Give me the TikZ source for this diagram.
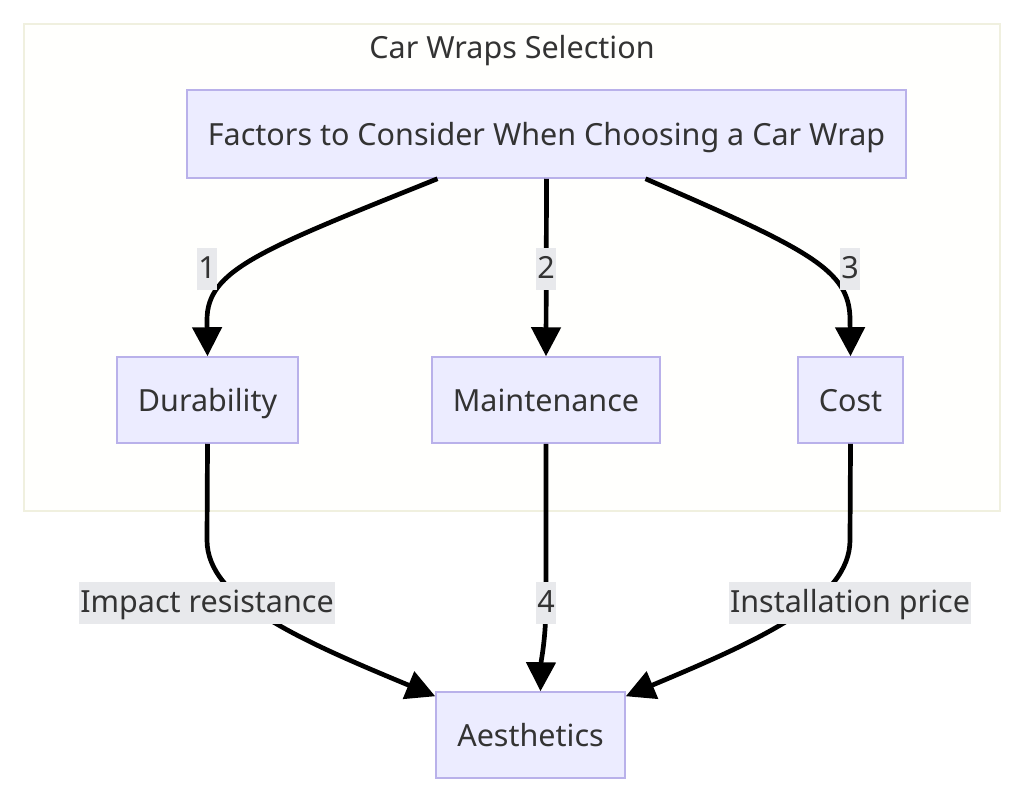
\documentclass[tikz,border=0pt]{standalone}
\usepackage{fontspec}
\setmainfont{Noto Sans}
\usetikzlibrary{arrows.meta,calc}
\definecolor{nodefill}{HTML}{ECECFF}
\definecolor{nodeline}{HTML}{B9B1EA}
\definecolor{txt}{HTML}{333333}
\definecolor{lblbg}{HTML}{E8E9EC}
\definecolor{clfill}{HTML}{FFFFFD}
\definecolor{clline}{HTML}{F0F0DF}
\tikzset{
  box/.style={draw=nodeline, fill=nodefill, line width=1.5pt, text=txt, inner sep=0pt, text height=22pt, text depth=0pt, font=\fontsize{30.5}{36}\selectfont},
  lbl/.style={fill=lblbg, text=txt, inner xsep=1pt, inner ysep=4pt, text height=26pt, text depth=8pt, font=\fontsize{30.5}{36}\selectfont},
  edge/.style={line width=4.7pt, draw=black, -{Triangle[length=29pt,width=29pt]}},
}
\begin{document}
\begin{tikzpicture}[x=1pt,y=-1pt]
\useasboundingbox (0,0) rectangle (1024,801);
\fill[white] (0,0) rectangle (1024,801);
\draw[clline, fill=clfill, line width=1.5pt] (24,24) rectangle (1000,511);
\node[text=txt, text height=22pt, text depth=0pt, inner sep=0pt, font=\fontsize{30.5}{36}\selectfont] (title) at (512,47) {Car Wraps Selection};
\node[box, minimum width=719pt, minimum height=88pt] (top) at (546.5,134) {Factors to Consider When Choosing a Car Wrap};
\node[box, minimum width=181pt, minimum height=86pt] (dur) at (207.5,400) {Durability};
\node[box, minimum width=228pt, minimum height=86pt] (mnt) at (546,400) {Maintenance};
\node[box, minimum width=105pt, minimum height=86pt] (cost) at (850.5,400) {Cost};
\node[box, minimum width=189pt, minimum height=86pt] (aes) at (530.5,735) {Aesthetics};
% edges
\draw[edge] ($(top.south)+(-109,0)$) .. controls (260,250) and (207,270) .. (207,320) -- (dur.north);
\draw[edge] (top.south) -- (mnt.north);
\draw[edge] ($(top.south)+(99,0)$) .. controls (810,250) and (850,270) .. (850,320) -- (cost.north);
\draw[edge] (dur.south) -- (207,540) .. controls (207,600) and (300,640) .. ($(aes.north west)+(0,5)$);
\draw[edge] (mnt.south) -- (546,600) .. controls (546,640) and (541,660) .. ($(aes.north)+(10,0)$);
\draw[edge] (cost.south) -- (850,540) .. controls (850,600) and (760,640) .. ($(aes.north east)+(0,5)$);
% labels
\node[lbl] (l1) at (207,269) {1};
\node[lbl] (l2) at (546,269) {2};
\node[lbl] (l3) at (850,269) {3};
\node[lbl] (l4) at (207,603) {Impact resistance};
\node[lbl] (l5) at (546,603) {4};
\node[lbl] (l6) at (850,603) {Installation price};
\end{tikzpicture}
\end{document}
